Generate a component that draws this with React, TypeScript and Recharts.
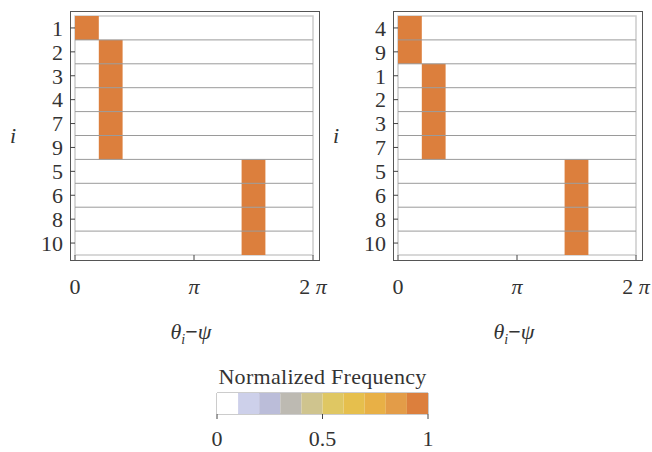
import React from "react";
import { BarChart, Bar, XAxis, YAxis, ReferenceLine, ReferenceArea, Cell, Label } from "recharts";

const FONT = '"Liberation Serif", "DejaVu Serif", serif';

// colour steps of the legend bar, lowest to highest
const colorSteps = ["#ffffff", "#cdd0ea", "#bbbdd9", "#bdbab2", "#cfc48e", "#dfc763", "#e6bf4d", "#e8b046", "#e39c48", "#dc7f3d"];
const colorStepWidths = [0.1, 0.1, 0.1, 0.1, 0.1, 0.1, 0.1, 0.1, 0.1, 0.1];
const colorbarTicks = [0, 0.5, 1];

const thetaTicks = [0, Math.PI, 2 * Math.PI];
const binCount = 10;

// left panel
const leftRows = ["1", "2", "3", "4", "7", "9", "5", "6", "8", "10"];
const leftBins = [0, 1, 1, 1, 1, 1, 7, 7, 7, 7];
const leftFreq = [1, 1, 1, 1, 1, 1, 1, 1, 1, 1];

// right panel
const rightRows = ["4", "9", "1", "2", "3", "7", "5", "6", "8", "10"];
const rightBins = [0, 0, 1, 1, 1, 1, 7, 7, 7, 7];
const rightFreq = [1, 1, 1, 1, 1, 1, 1, 1, 1, 1];

const FS = 22;

const colorFor = (v: number) => colorSteps[Math.min(colorSteps.length - 1, Math.floor(v * colorSteps.length))];

const ThetaTick = (props: any) => {
  const { x, y, payload } = props;
  const v = payload.value;
  let label: React.ReactNode = "0";
  if (Math.abs(v - Math.PI) < 1e-6) label = <tspan fontStyle="italic">π</tspan>;
  if (Math.abs(v - 2 * Math.PI) < 1e-6)
    label = (
      <>
        <tspan>2 </tspan>
        <tspan fontStyle="italic">π</tspan>
      </>
    );
  return (
    <text x={x} y={y} dy="0.71em" textAnchor="middle" fill="#333" fontSize={FS} fontFamily={FONT}>
      {label}
    </text>
  );
};

interface PanelProps {
  rows: string[];
  bins: number[];
  freq: number[];
  left: number;
}

const Panel = ({ rows, bins, freq, left }: PanelProps) => {
  const binWidth = (2 * Math.PI) / binCount;
  const data = rows.map((row, i) => ({
    row,
    range: [bins[i] * binWidth, (bins[i] + 1) * binWidth],
    freq: freq[i],
  }));

  return (
    <div style={{ position: "absolute", left, top: 0, width: 330, height: 360 }}>
      {/* outer frame */}
      <div
        style={{
          position: "absolute",
          left: 70,
          top: 11,
          width: 250,
          height: 250,
          border: "1px solid #555",
          boxSizing: "border-box",
        }}
      />
      <BarChart
        width={330}
        height={300}
        data={data}
        layout="vertical"
        barCategoryGap={0}
        margin={{ top: 16, right: 17, bottom: 0, left: 0 }}
      >
        <XAxis
          type="number"
          domain={[0, 2 * Math.PI]}
          ticks={thetaTicks}
          interval={0}
          tickFormatter={(v: number) => (v === 0 ? "0" : v < 4 ? "π" : "2π")}
          tick={<ThetaTick />}
          tickSize={5}
          tickMargin={18}
          tickLine={{ stroke: "#444" }}
          axisLine={false}
          height={45}
          allowDataOverflow
        />
        <YAxis
          type="category"
          dataKey="row"
          width={75}
          interval={0}
          tickSize={5}
          tickMargin={7}
          axisLine={false}
          tickLine={{ stroke: "#444" }}
          tick={{ fill: "#333", fontSize: FS, fontFamily: FONT }}
        >
          <Label
            value="i"
            position="insideLeft"
            offset={10}
            style={{ fontStyle: "italic", fontSize: FS, fontFamily: FONT, fill: "#333" }}
          />
        </YAxis>
        <Bar dataKey="range" isAnimationActive={false}>
          {data.map((d, i) => (
            <Cell key={i} fill={colorFor(d.freq)} />
          ))}
        </Bar>
        {rows.slice(1).map((r) => (
          <ReferenceLine key={r} y={r} position="start" stroke="#9a9a9a" strokeWidth={1} />
        ))}
        <ReferenceArea x1={0} x2={2 * Math.PI} fill="none" fillOpacity={0} stroke="#cccccc" strokeWidth={1.5} />
      </BarChart>
      <div
        style={{
          position: "absolute",
          left: 0,
          width: 382,
          top: 319,
          textAlign: "center",
          fontSize: FS,
          color: "#333",
          fontFamily: FONT,
        }}
      >
        <i>θ</i>
        <sub style={{ fontSize: 14, fontStyle: "italic" }}>i</sub>
        <b>−</b>
        <i>ψ</i>
      </div>
    </div>
  );
};

const Colorbar = () => {
  const row: any = { name: "freq" };
  colorStepWidths.forEach((w, i) => (row[`s${i}`] = w));
  return (
    <div style={{ position: "absolute", left: 0, top: 360, width: 652, height: 92 }}>
      <div
        style={{
          position: "absolute",
          left: 167,
          width: 311,
          top: 4,
          textAlign: "center",
          fontSize: FS,
          color: "#333",
          fontFamily: FONT,
          whiteSpace: "nowrap",
          letterSpacing: 0.3,
        }}
      >
        Normalized Frequency
      </div>
      <BarChart
        width={652}
        height={92}
        data={[row]}
        layout="vertical"
        barCategoryGap={0}
        margin={{ top: 33, right: 224, bottom: 0, left: 217 }}
      >
        <XAxis
          type="number"
          domain={[0, 1]}
          ticks={colorbarTicks}
          interval={0}
          tickFormatter={(v: number) => String(v)}
          tickSize={5}
          tickMargin={11}
          axisLine={false}
          tickLine={{ stroke: "#444" }}
          tick={{ fill: "#333", fontSize: FS, fontFamily: FONT }}
          height={38}
        />
        <YAxis type="category" dataKey="name" hide width={0} />
        {colorSteps.map((c, i) => (
          <Bar key={i} dataKey={`s${i}`} stackId="cb" fill={c} isAnimationActive={false} />
        ))}
        <ReferenceArea x1={0} x2={1} fill="none" fillOpacity={0} stroke="#999" strokeWidth={1} />
      </BarChart>
    </div>
  );
}

export default function App() {
  return (
    <div
      style={{
        position: "absolute",
        left: 0,
        top: 0,
        width: 652,
        height: 452,
        background: "#fff",
        fontFamily: FONT,
        overflow: "hidden",
      }}
    >
      <Panel rows={leftRows} bins={leftBins} freq={leftFreq} left={0} />
      <Panel rows={rightRows} bins={rightBins} freq={rightFreq} left={323} />
      <Colorbar />
    </div>
  );
}
